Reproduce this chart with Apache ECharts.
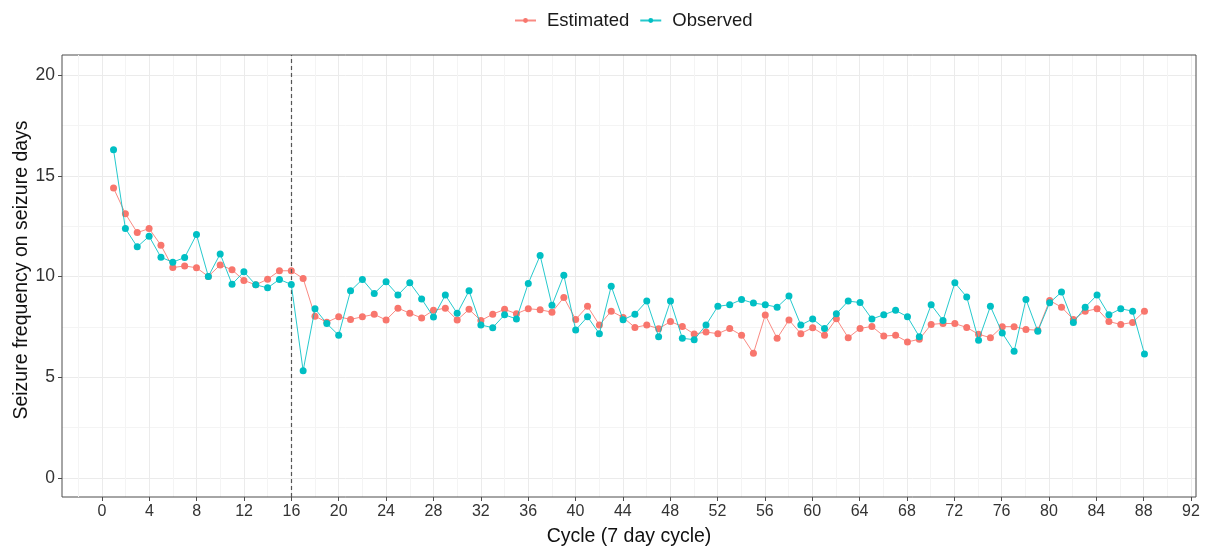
<!DOCTYPE html>
<html>
<head>
<meta charset="utf-8">
<script src="https://cdn.jsdelivr.net/npm/echarts@6/dist/echarts.min.js"></script>
<style>
html,body{margin:0;padding:0;background:#fff;}
#chart{width:1206px;height:547px;}
</style>
</head>
<body>
<div id="chart"></div>
<script>
const cycles = [1,2,3,4,5,6,7,8,9,10,11,12,13,14,15,16,17,18,19,20,21,22,23,24,25,26,27,28,29,30,
  31,32,33,34,35,36,37,38,39,40,41,42,43,44,45,46,47,48,49,50,51,52,53,54,55,56,57,58,59,60,
  61,62,63,64,65,66,67,68,69,70,71,72,73,74,75,76,77,78,79,80,81,82,83,84,85,86,87,88];

const estimated = [14.38,13.10,12.16,12.36,11.53,10.42,10.50,10.41,9.98,10.55,10.31,9.78,9.56,9.84,10.26,10.26,
  9.88,8.00,7.70,7.97,7.84,7.97,8.09,7.81,8.40,8.15,7.91,8.29,8.40,7.81,8.34,7.78,8.10,8.34,8.12,8.37,
  8.32,8.20,8.93,7.84,8.49,7.56,8.25,7.94,7.44,7.56,7.38,7.73,7.49,7.11,7.21,7.13,7.39,7.05,6.15,8.06,
  6.90,7.81,7.13,7.43,7.05,7.87,6.93,7.39,7.49,7.01,7.05,6.72,6.85,7.59,7.64,7.63,7.44,7.10,6.93,7.48,
  7.48,7.34,7.30,8.78,8.45,7.84,8.24,8.37,7.73,7.59,7.69,8.25];

const observed = [16.28,12.36,11.45,11.98,10.93,10.69,10.92,12.06,9.98,11.10,9.59,10.21,9.56,9.41,9.83,9.58,
  5.29,8.37,7.63,7.05,9.26,9.83,9.13,9.71,9.05,9.66,8.86,7.96,9.05,8.14,9.26,7.56,7.43,8.07,7.86,9.63,
  11.02,8.54,10.04,7.31,7.97,7.13,9.49,7.82,8.10,8.75,6.98,8.75,6.90,6.83,7.56,8.49,8.57,8.83,8.65,8.57,
  8.45,9.00,7.56,7.86,7.39,8.12,8.75,8.68,7.86,8.07,8.29,7.97,6.98,8.57,7.79,9.66,8.96,6.80,8.49,7.16,
  6.25,8.83,7.25,8.67,9.20,7.69,8.45,9.05,8.07,8.37,8.25,6.12];

const xTicks = {min: 0, max: 92, step: 4};
const yTicks = {min: 0, max: 20, step: 5};
const cutoffCycle = 16;
const seriesNames = ['Estimated', 'Observed'];
const xTitle = 'Cycle (7 day cycle)';
const yTitle = 'Seizure frequency on seizure days';

const RED = '#F8766D', TEAL = '#00BFC4';
const FONT = '"Liberation Sans", Arial, sans-serif';
const MAJOR = '#ebebeb', MINOR = '#f4f4f4';

const chart = echarts.init(document.getElementById('chart'), null, {renderer: 'canvas'});

function pairs(vals){ return cycles.map((c, i) => [c, vals[i]]); }

const option = {
  animation: false,
  backgroundColor: '#fff',
  grid: [
    {left: 62, right: 10, top: 55, bottom: 50, show: true, borderColor: '#4d4d4d', borderWidth: 1, backgroundColor: 'transparent', z: 3},
    {left: 102, right: 15, top: 55, bottom: 50},
    {left: 62, right: 10, top: 75, bottom: 69}
  ],
  xAxis: [
    {gridIndex: 0, type: 'value', min: -3.35, max: 92.35, show: false},
    {gridIndex: 1, type: 'value', min: xTicks.min, max: xTicks.max, interval: xTicks.step,
      axisLine: {show: false},
      axisTick: {show: true, length: 4, lineStyle: {color: '#4d4d4d', width: 1}},
      axisLabel: {show: true, margin: 7, color: '#333', fontSize: 16, fontFamily: FONT},
      splitLine: {show: true, lineStyle: {color: MAJOR, width: 1}},
      minorTick: {show: false, splitNumber: 2},
      minorSplitLine: {show: true, lineStyle: {color: MINOR, width: 1}}
    },
    {gridIndex: 2, type: 'value', min: 0, max: 1, show: false}
  ],
  yAxis: [
    {gridIndex: 0, type: 'value', min: -1, max: 21, show: false},
    {gridIndex: 1, type: 'value', min: 0, max: 1, show: false},
    {gridIndex: 2, type: 'value', min: yTicks.min, max: yTicks.max, interval: yTicks.step,
      axisLine: {show: false},
      axisTick: {show: true, length: 4, lineStyle: {color: '#4d4d4d', width: 1}},
      axisLabel: {show: true, margin: 7, color: '#333', fontSize: 17.5, fontFamily: FONT},
      splitLine: {show: true, lineStyle: {color: MAJOR, width: 1}},
      minorTick: {show: false, splitNumber: 2},
      minorSplitLine: {show: true, lineStyle: {color: MINOR, width: 1}}
    }
  ],
  legend: {
    data: seriesNames,
    left: 509, top: 6,
    itemWidth: 21, itemHeight: 6, itemGap: 10,
    textStyle: {fontSize: 18.5, fontFamily: FONT, color: '#1a1a1a', padding: [0, 0, 0, 6]}
  },
  graphic: [
    {type: 'text', x: 629, y: 537,
      style: {text: xTitle, font: '19.5px ' + FONT, fill: '#111', align: 'center', verticalAlign: 'middle'}, z: 10},
    {type: 'text', x: 22, y: 270, rotation: Math.PI / 2,
      style: {text: yTitle, font: '19.5px ' + FONT, fill: '#111', align: 'center', verticalAlign: 'middle'}, z: 10}
  ],
  series: [
    {
      name: seriesNames[0], type: 'line', xAxisIndex: 0, yAxisIndex: 0,
      data: pairs(estimated),
      symbol: 'circle', symbolSize: 7, showSymbol: true,
      itemStyle: {color: RED},
      lineStyle: {color: RED, width: 1, opacity: 0.85},
      z: 4,
      markLine: {
        silent: true, symbol: 'none', label: {show: false},
        data: [
          {xAxis: cutoffCycle, lineStyle: {color: '#555', width: 1.2, type: [4, 3]}},
          {xAxis: -2, lineStyle: {color: MINOR, width: 1, type: 'solid'}}
        ]
      }
    },
    {
      name: seriesNames[1], type: 'line', xAxisIndex: 0, yAxisIndex: 0,
      data: pairs(observed),
      symbol: 'circle', symbolSize: 7, showSymbol: true,
      itemStyle: {color: TEAL},
      lineStyle: {color: TEAL, width: 1, opacity: 0.85},
      z: 5
    }
  ]
};
chart.setOption(option);
</script>
</body>
</html>
